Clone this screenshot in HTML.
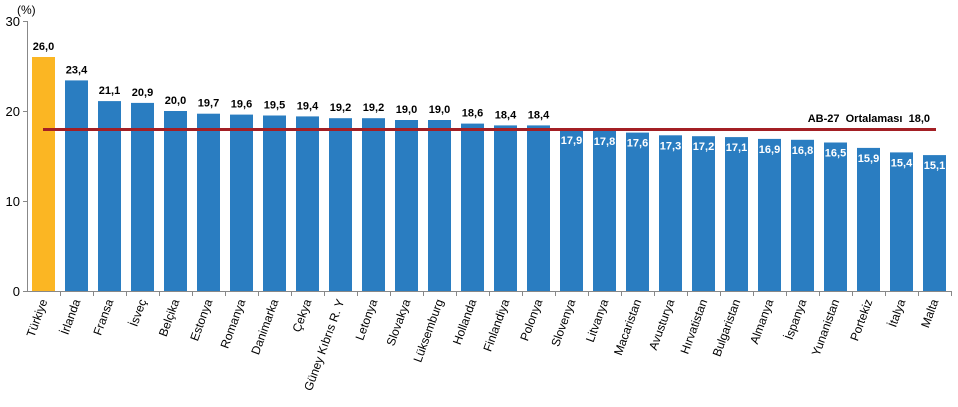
<!DOCTYPE html>
<html><head><meta charset="utf-8"><style>body{margin:0;background:#fff}svg{display:block}</style></head><body>
<svg width="958" height="407" xmlns="http://www.w3.org/2000/svg" font-family="Liberation Sans, Arial, sans-serif">
<g stroke="#888">
<line x1="27.5" y1="21" x2="27.5" y2="291"/><line x1="27" y1="291.5" x2="951" y2="291.5"/>
<line x1="23" x2="27" y1="21.5" y2="21.5"/><line x1="23" x2="27" y1="111.5" y2="111.5"/><line x1="23" x2="27" y1="201.5" y2="201.5"/><line x1="23" x2="27" y1="291.5" y2="291.5"/>
<path d="M60.5 291v5M93.5 291v5M126.5 291v5M159.5 291v5M192.5 291v5M225.5 291v5M258.5 291v5M291.5 291v5M324.5 291v5M357.5 291v5M390.5 291v5M423.5 291v5M456.5 291v5M489.5 291v5M522.5 291v5M555.5 291v5M588.5 291v5M621.5 291v5M654.5 291v5M687.5 291v5M720.5 291v5M753.5 291v5M786.5 291v5M819.5 291v5M852.5 291v5M885.5 291v5M918.5 291v5M951.5 291v5"/>
</g>
<g font-size="13" text-anchor="end"><text x="20" y="26">30</text><text x="20" y="116">20</text><text x="20" y="206">10</text><text x="20" y="296">0</text></g>
<text x="17" y="14" font-size="12">(%)</text>
<rect x="32" y="57" width="23" height="234" fill="#fbb623"/>
<g fill="#2a7dc1">
<rect x="65" y="80.4" width="23" height="210.6"/>
<rect x="98" y="101.1" width="23" height="189.9"/>
<rect x="131" y="102.9" width="23" height="188.1"/>
<rect x="164" y="111" width="23" height="180"/>
<rect x="197" y="113.7" width="23" height="177.3"/>
<rect x="230" y="114.6" width="23" height="176.4"/>
<rect x="263" y="115.5" width="23" height="175.5"/>
<rect x="296" y="116.4" width="23" height="174.6"/>
<rect x="329" y="118.2" width="23" height="172.8"/>
<rect x="362" y="118.2" width="23" height="172.8"/>
<rect x="395" y="120" width="23" height="171"/>
<rect x="428" y="120" width="23" height="171"/>
<rect x="461" y="123.6" width="23" height="167.4"/>
<rect x="494" y="125.4" width="23" height="165.6"/>
<rect x="527" y="125.4" width="23" height="165.6"/>
<rect x="560" y="129.9" width="23" height="161.1"/>
<rect x="593" y="130.8" width="23" height="160.2"/>
<rect x="626" y="132.6" width="23" height="158.4"/>
<rect x="659" y="135.3" width="23" height="155.7"/>
<rect x="692" y="136.2" width="23" height="154.8"/>
<rect x="725" y="137.1" width="23" height="153.9"/>
<rect x="758" y="138.9" width="23" height="152.1"/>
<rect x="791" y="139.8" width="23" height="151.2"/>
<rect x="824" y="142.5" width="23" height="148.5"/>
<rect x="857" y="147.9" width="23" height="143.1"/>
<rect x="890" y="152.4" width="23" height="138.6"/>
<rect x="923" y="155.1" width="23" height="135.9"/>
</g>
<g font-size="11" font-weight="bold" text-anchor="middle">
<text x="43.5" y="50">26,0</text><text x="76.5" y="73.4">23,4</text><text x="109.5" y="94.1">21,1</text><text x="142.5" y="95.9">20,9</text><text x="175.5" y="104">20,0</text><text x="208.5" y="106.7">19,7</text><text x="241.5" y="107.6">19,6</text><text x="274.5" y="108.5">19,5</text><text x="307.5" y="109.4">19,4</text><text x="340.5" y="111.2">19,2</text><text x="373.5" y="111.2">19,2</text><text x="406.5" y="113">19,0</text><text x="439.5" y="113">19,0</text><text x="472.5" y="116.6">18,6</text><text x="505.5" y="118.4">18,4</text><text x="538.5" y="118.4">18,4</text>
</g>
<g font-size="11" font-weight="bold" text-anchor="middle" fill="#fff">
<text x="571.5" y="143.9">17,9</text><text x="604.5" y="144.8">17,8</text><text x="637.5" y="146.6">17,6</text><text x="670.5" y="149.3">17,3</text><text x="703.5" y="150.2">17,2</text><text x="736.5" y="151.1">17,1</text><text x="769.5" y="152.9">16,9</text><text x="802.5" y="153.8">16,8</text><text x="835.5" y="156.5">16,5</text><text x="868.5" y="161.9">15,9</text><text x="901.5" y="166.4">15,4</text><text x="934.5" y="169.1">15,1</text>
</g>
<line x1="43" x2="936" y1="129.5" y2="129.5" stroke="#a31f24" stroke-width="3"/>
<text x="930" y="122" font-size="11" font-weight="bold" text-anchor="end" xml:space="preserve">AB-27  Ortalaması  18,0</text>
<g font-size="12" text-anchor="end">
<text transform="translate(47.5,301) rotate(-70)">Türkiye</text>
<text transform="translate(80.5,301) rotate(-70)">İrlanda</text>
<text transform="translate(113.5,301) rotate(-70)">Fransa</text>
<text transform="translate(146.5,301) rotate(-70)">İsveç</text>
<text transform="translate(179.5,301) rotate(-70)">Belçika</text>
<text transform="translate(212.5,301) rotate(-70)">Estonya</text>
<text transform="translate(245.5,301) rotate(-70)">Romanya</text>
<text transform="translate(278.5,301) rotate(-70)">Danimarka</text>
<text transform="translate(311.5,301) rotate(-70)">Çekya</text>
<text transform="translate(344.5,301) rotate(-70)">Güney Kıbrıs R. Y</text>
<text transform="translate(377.5,301) rotate(-70)">Letonya</text>
<text transform="translate(410.5,301) rotate(-70)">Slovakya</text>
<text transform="translate(443.5,301) rotate(-70)">Lüksemburg</text>
<text transform="translate(476.5,301) rotate(-70)">Hollanda</text>
<text transform="translate(509.5,301) rotate(-70)">Finlandiya</text>
<text transform="translate(542.5,301) rotate(-70)">Polonya</text>
<text transform="translate(575.5,301) rotate(-70)">Slovenya</text>
<text transform="translate(608.5,301) rotate(-70)">Litvanya</text>
<text transform="translate(641.5,301) rotate(-70)">Macaristan</text>
<text transform="translate(674.5,301) rotate(-70)">Avusturya</text>
<text transform="translate(707.5,301) rotate(-70)">Hırvatistan</text>
<text transform="translate(740.5,301) rotate(-70)">Bulgaristan</text>
<text transform="translate(773.5,301) rotate(-70)">Almanya</text>
<text transform="translate(806.5,301) rotate(-70)">İspanya</text>
<text transform="translate(839.5,301) rotate(-70)">Yunanistan</text>
<text transform="translate(872.5,301) rotate(-70)">Portekiz</text>
<text transform="translate(905.5,301) rotate(-70)">İtalya</text>
<text transform="translate(938.5,301) rotate(-70)">Malta</text>
</g>
</svg></body></html>
